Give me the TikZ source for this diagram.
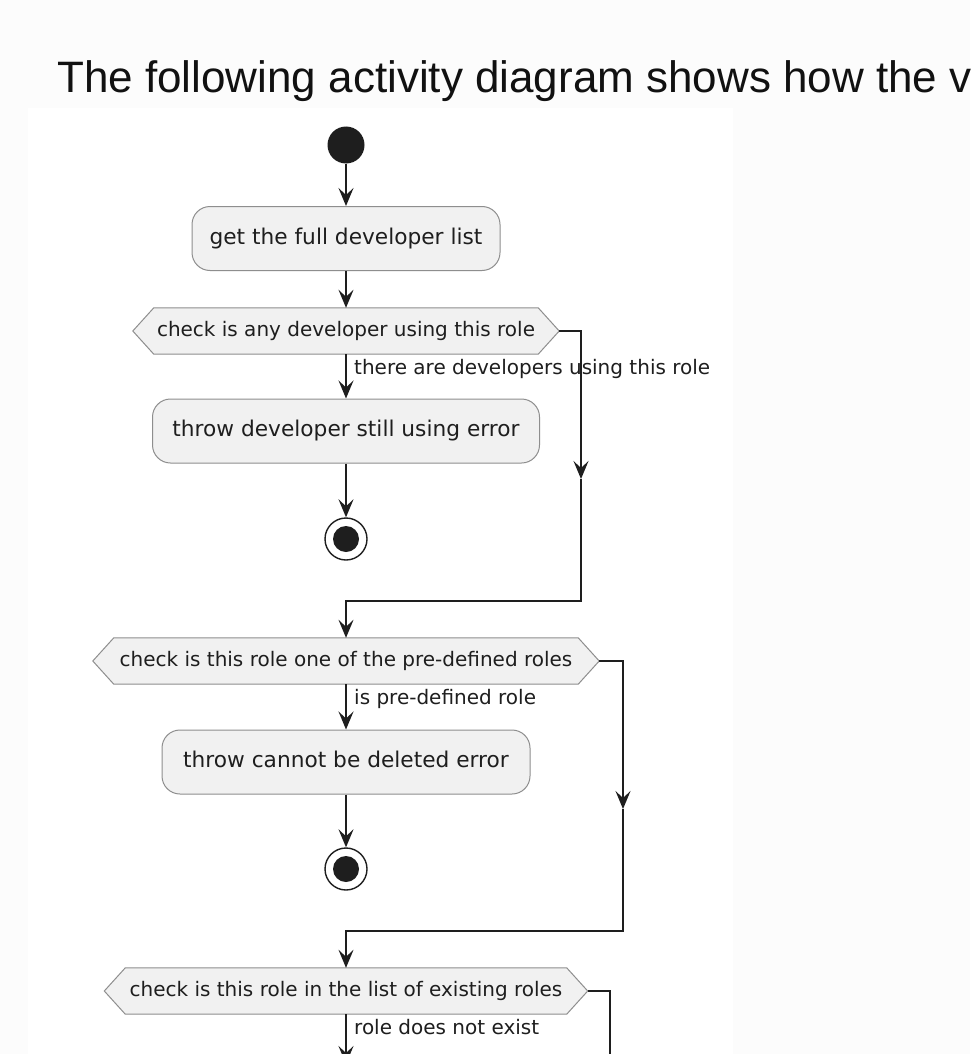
\documentclass[tikz,border=0pt]{standalone}
\usepackage{fontspec}
\setmainfont{DejaVu Sans}
\newfontfamily\titlefont{Liberation Sans}
\usetikzlibrary{arrows.meta,calc}
\definecolor{pagebg}{HTML}{FCFCFC}
\definecolor{nodefill}{HTML}{F1F1F1}
\definecolor{nodeline}{HTML}{8E8E8E}
\definecolor{ink}{HTML}{1E1E1E}
\definecolor{titleink}{HTML}{111111}
\pgfdeclarelayer{back}
\pgfdeclarelayer{bg}
\pgfsetlayers{back,bg,main}
\tikzset{
  act/.style={rectangle, rounded corners=18pt, draw=nodeline, fill=nodefill, line width=1pt,
    minimum height=64pt, text=ink, font=\fontsize{21.7}{26}\selectfont,
    text height=16.5pt, text depth=5.2pt, inner xsep=0pt},
  dec/.style={rectangle, minimum height=46pt, text=ink, font=\fontsize{20}{24}\selectfont,
    text height=15.2pt, text depth=4.8pt, inner xsep=0pt, inner ysep=0pt},
  hexa/.style={draw=nodeline, fill=nodefill, line width=1pt, line join=miter},
  lbl/.style={anchor=base west, inner sep=0pt, text=ink, font=\fontsize{20}{24}\selectfont},
  flow/.style={draw=ink, line width=1.6pt, -{Stealth[length=18pt,width=15pt,inset=7pt]}},
  plainline/.style={draw=ink, line width=1.6pt},
  startc/.style={circle, fill=ink, minimum size=37pt, inner sep=0pt},
  endc/.style={circle, draw=ink, fill=white, line width=1.4pt, minimum size=42pt, inner sep=0pt},
  titletext/.style={anchor=base west, inner sep=0pt, text=titleink, font=\titlefont\fontsize{44}{50}\selectfont},
}
\newcommand\drawhexagon[1]{%
  \begin{pgfonlayer}{bg}
  \draw[hexa] ([xshift=-21pt]#1.west) -- (#1.north west) -- (#1.north east)
     -- ([xshift=21pt]#1.east) -- (#1.south east) -- (#1.south west) -- cycle;
  \end{pgfonlayer}}
\begin{document}
\begin{tikzpicture}[x=1pt,y=-1pt]
\useasboundingbox (0,0) rectangle (970,1054);
\begin{pgfonlayer}{back}
\fill[pagebg] (0,0) rectangle (970,1054);
\fill[white] (28,108) rectangle (733,1054);
\end{pgfonlayer}
\begin{scope}
\clip (0,0) rectangle (970,1054);
\node[titletext] (title) at (57,93) {The following activity diagram shows how the v};

\node[startc] (s) at (346,145) {};
\node[act, minimum width=308pt] (a1) at (346,238.5) {get the full developer list};
\node[dec, minimum width=384pt] (d1) at (346,331) {check is any developer using this role};
\drawhexagon{d1}
\node[act, minimum width=387pt] (a2) at (346,431) {throw developer still using error};
\node[endc] (e1) at (346,539) {};
\fill[ink] (e1.center) circle (13pt);

\node[dec, minimum width=464pt] (d2) at (346,661) {check is this role one of the pre-defined roles};
\drawhexagon{d2}
\node[act, minimum width=368pt] (a3) at (346,762) {throw cannot be deleted error};
\node[endc] (e2) at (346,869) {};
\fill[ink] (e2.center) circle (13pt);

\node[dec, minimum width=441pt] (d3) at (346,991) {check is this role in the list of existing roles};
\drawhexagon{d3}

\node[lbl] (l1) at (354,374) {there are developers using this role};
\node[lbl] (l2) at (354,704) {is pre-defined role};
\node[lbl] (l3) at (354,1034) {role does not exist};

\coordinate (d1t) at ([xshift=21pt]d1.east);
\coordinate (d2t) at ([xshift=21pt]d2.east);
\coordinate (d3t) at ([xshift=21pt]d3.east);
\coordinate (r1) at (581,479);
\coordinate (j1) at (581,601);
\coordinate (r2) at (623,809);
\coordinate (j2) at (623,931);
\coordinate (r3) at (610,1100);
\coordinate (x3) at (346,1064);

\draw[flow] (s) -- (a1);
\draw[flow] (a1) -- (d1);
\draw[flow] (d1) -- (a2);
\draw[flow] (a2) -- (e1);
\draw[flow] (d1t) -| (r1);
\draw[flow] (r1) -- (j1) -| (d2.north);

\draw[flow] (d2) -- (a3);
\draw[flow] (a3) -- (e2);
\draw[flow] (d2t) -| (r2);
\draw[flow] (r2) -- (j2) -| (d3.north);

\draw[flow] (d3) -- (x3);
\draw[plainline] (d3t) -| (r3);
\end{scope}
\end{tikzpicture}
\end{document}
